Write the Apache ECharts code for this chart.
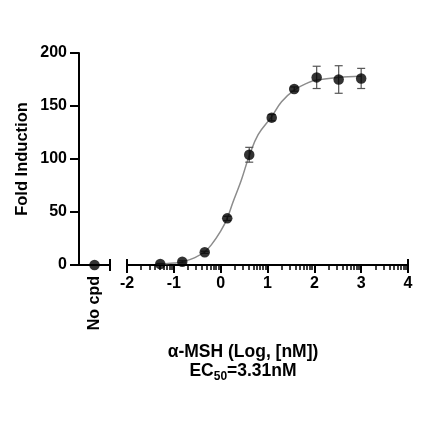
<!DOCTYPE html>
<html>
<head>
<meta charset="utf-8">
<script src="https://cdn.jsdelivr.net/npm/echarts@6/dist/echarts.min.js"></script>
<style>
html,body{margin:0;padding:0;background:#fff;}
#chart{width:440px;height:440px;}
</style>
</head>
<body>
<div id="chart"></div>
<script>
// ---- data ----
const noCpdCategory = ['No cpd'];
const noCpdValue = [0];

const logConc = [-1.29, -0.82, -0.34, 0.14, 0.61, 1.09, 1.57, 2.05, 2.52, 3.0];
const foldInduction = [1, 3, 12, 44, 104, 139, 166, 177, 175, 176];
const errorSD = [0.5, 1, 1, 2, 7, 3, 2, 10.5, 13, 9.5];

// fitted curve, sampled by eye from the reference
const fitLogConc = [-1.29, -1.0, -0.8, -0.55, -0.34, -0.2, 0.0, 0.14, 0.26, 0.44, 0.61, 0.8, 1.09, 1.3, 1.57, 1.87, 2.05, 2.5, 3.0];
const fitValue   = [0.8, 1.8, 3.2, 7, 12.5, 19, 32, 44, 59, 80, 103, 123, 140, 154, 165, 172, 174.5, 177, 178];

const xTickLabels = ['-2', '-1', '0', '1', '2', '3', '4'];
const yTickLabels = ['0', '50', '100', '150', '200'];

// log-scale minor tick positions for each decade
const minorTicks = [];
for (let d = -2; d < 4; d++) {
  for (let k = 2; k <= 9; k++) minorTicks.push(d + Math.log10(k));
}

const FONT = 'Liberation Sans, Arial, Helvetica, sans-serif';
const chart = echarts.init(document.getElementById('chart'));

const option = {
  animation: false,
  backgroundColor: '#fff',
  title: {
    text: '{b|α-MSH (Log, [nM])}\n{a|EC}{s|50}{a|=3.31nM}',
    left: 243, top: 343, textAlign: 'center', padding: 0,
    textStyle: {
      rich: {
        b: { fontSize: 17.5, fontWeight: 'bold', color: '#000', fontFamily: FONT, lineHeight: 19, verticalAlign: 'top' },
        a: { fontSize: 17.5, fontWeight: 'bold', color: '#000', fontFamily: FONT, lineHeight: 17, verticalAlign: 'top' },
        s: { fontSize: 12, fontWeight: 'bold', color: '#000', fontFamily: FONT, lineHeight: 21, verticalAlign: 'bottom' }
      }
    }
  },
  grid: [
    { left: 79, top: 53, width: 31, height: 212 },
    { left: 127, top: 53, width: 281, height: 212 }
  ],
  xAxis: [
    {
      gridIndex: 0, type: 'category', data: noCpdCategory, position: 'bottom',
      axisLine: { onZero: false, symbol: ['none', 'rect'], symbolSize: [12, 2], lineStyle: { color: '#000', width: 2 } },
      axisTick: { alignWithLabel: true, length: 6, lineStyle: { color: '#000', width: 2 } },
      axisLabel: { rotate: 90, margin: 11, fontSize: 16, fontWeight: 'bold', color: '#000', fontFamily: FONT },
      splitLine: { show: false }
    },
    {
      gridIndex: 1, type: 'value', min: -2, max: 4, interval: 1, position: 'bottom',
      axisLine: { onZero: false, symbol: ['rect', 'rect'], symbolSize: [12, 2], lineStyle: { color: '#000', width: 2 } },
      axisTick: { length: 8, lineStyle: { color: '#000', width: 2 } },
      axisLabel: {
        margin: 11, fontSize: 16, fontWeight: 'bold', color: '#000', fontFamily: FONT,
        formatter: (v) => xTickLabels[Math.round(v) + 2]
      },
      splitLine: { show: false }
    },
    {
      gridIndex: 1, type: 'value', min: -2, max: 4, position: 'bottom',
      axisLine: { show: false, onZero: false },
      axisTick: { show: true, customValues: minorTicks, length: 5, lineStyle: { color: '#000', width: 1.5 } },
      axisLabel: { show: false },
      splitLine: { show: false }
    }
  ],
  yAxis: [
    {
      gridIndex: 0, type: 'value', min: 0, max: 200, interval: 50,
      name: 'Fold Induction', nameLocation: 'middle', nameGap: 48, nameRotate: 90,
      nameTextStyle: { fontSize: 16.5, fontWeight: 'bold', color: '#000', fontFamily: FONT },
      axisLine: { show: true, onZero: false, lineStyle: { color: '#000', width: 2 } },
      axisTick: { show: true, length: 9, lineStyle: { color: '#000', width: 2 } },
      axisLabel: {
        margin: 12, fontSize: 16, fontWeight: 'bold', color: '#000', fontFamily: FONT,
        formatter: (v) => yTickLabels[Math.round(v / 50)]
      },
      splitLine: { show: false }
    },
    {
      gridIndex: 1, type: 'value', min: 0, max: 200, interval: 50, show: false
    }
  ],
  series: [
    {
      type: 'scatter', xAxisIndex: 0, yAxisIndex: 0,
      data: noCpdCategory.map((c, i) => [c, noCpdValue[i]]),
      symbolSize: 10.5, itemStyle: { color: '#000' }, z: 5
    },
    {
      type: 'line', xAxisIndex: 1, yAxisIndex: 1,
      data: fitLogConc.map((x, i) => [x, fitValue[i]]),
      smooth: 0.4, showSymbol: false,
      lineStyle: { color: '#8c8c8c', width: 1.5 }, z: 2
    },
    {
      type: 'custom', xAxisIndex: 1, yAxisIndex: 1,
      data: logConc.map((x, i) => [x, foldInduction[i], errorSD[i]]),
      encode: { x: 0, y: 1 },
      renderItem: function (params, api) {
        const x = api.value(0), y = api.value(1), e = api.value(2);
        const top = api.coord([x, y + e]);
        const bot = api.coord([x, y - e]);
        const hw = 4;
        const st = { stroke: '#555', lineWidth: 1.2 };
        return {
          type: 'group',
          children: [
            { type: 'line', shape: { x1: top[0], y1: top[1], x2: bot[0], y2: bot[1] }, style: st },
            { type: 'line', shape: { x1: top[0] - hw, y1: top[1], x2: top[0] + hw, y2: top[1] }, style: st },
            { type: 'line', shape: { x1: bot[0] - hw, y1: bot[1], x2: bot[0] + hw, y2: bot[1] }, style: st }
          ]
        };
      },
      z: 3
    },
    {
      type: 'scatter', xAxisIndex: 1, yAxisIndex: 1,
      data: logConc.map((x, i) => [x, foldInduction[i]]),
      symbolSize: 10.5, itemStyle: { color: '#000' }, z: 5
    }
  ]
};
chart.setOption(option);
</script>
</body>
</html>
